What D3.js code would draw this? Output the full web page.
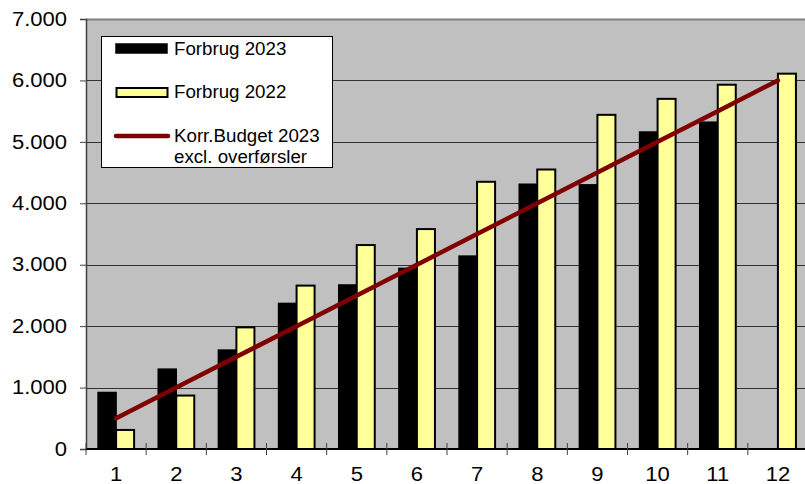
<!DOCTYPE html>
<html>
<head>
<meta charset="utf-8">
<script src="https://cdn.jsdelivr.net/npm/d3@7"></script>
<style>
  html, body { margin: 0; padding: 0; background: #fff; }
  svg { display: block; font-family: "Liberation Sans", Arial, sans-serif; }
</style>
</head>
<body>
<svg id="chart" width="805" height="484"></svg>
<script>
const months = ["1","2","3","4","5","6","7","8","9","10","11","12"];
const forbrug2023 = [920, 1300, 1610, 2370, 2670, 2940, 3140, 4310, 4300, 5160, 5320, null];
const forbrug2022 = [310, 870, 1980, 2660, 3320, 3580, 4350, 4550, 5440, 5700, 5930, 6110];
const budget2023 = [500, 1000, 1500, 2000, 2500, 3000, 3500, 4000, 4500, 5000, 5500, 6000];
const yTicks = [0, 1000, 2000, 3000, 4000, 5000, 6000, 7000];
const seriesNames = ["Forbrug 2023", "Forbrug 2022"];
const budgetLabel = ["Korr.Budget 2023", "excl. overførsler"];

(function () {
const svg = d3.select("#chart");
const pL = 86, pR = 808, pT = 19, pB = 449;
const tickStretch = 1.13, legendStretch = 1.07;

const x = d3.scaleBand().domain(months).range([pL, pR]).padding(0);
const xs = d3.scaleBand().domain(seriesNames).range([0, x.bandwidth()]).paddingInner(0).paddingOuter(0.67);
const y = d3.scaleLinear().domain([0, 7000]).range([pB, pT]);
const fmt = v => d3.format(",")(v).replace(/,/g, ".");

// plot background
svg.append("rect").attr("x", pL).attr("y", pT).attr("width", pR - pL).attr("height", pB - pT)
  .attr("fill", "#C0C0C0");

// gridlines
svg.append("g").selectAll("line").data(yTicks.filter(d => d > 0 && d < 7000)).join("line")
  .attr("x1", pL).attr("x2", pR)
  .attr("y1", d => Math.round(y(d)) + 0.5).attr("y2", d => Math.round(y(d)) + 0.5)
  .attr("stroke", "#333").attr("stroke-width", 1);

// top border
svg.append("line").attr("x1", pL).attr("x2", pR).attr("y1", pT + 0.5).attr("y2", pT + 0.5)
  .attr("stroke", "#808080").attr("stroke-width", 2);

const data = months.map((m, i) => ({m, a: forbrug2023[i], b: forbrug2022[i]}));

// bars
const groups = svg.append("g").selectAll("g").data(data).join("g")
  .attr("transform", d => `translate(${x(d.m)},0)`);
groups.filter(d => d.a != null).append("rect")
  .attr("x", xs("Forbrug 2023")).attr("width", xs.bandwidth())
  .attr("y", d => y(d.a))
  .attr("height", d => pB - y(d.a))
  .attr("fill", "#000").attr("stroke", "#000").attr("stroke-width", 1.5);
groups.append("rect")
  .attr("x", xs("Forbrug 2022")).attr("width", xs.bandwidth())
  .attr("y", d => y(d.b))
  .attr("height", d => pB - y(d.b))
  .attr("fill", "#FFFF99").attr("stroke", "#000").attr("stroke-width", 2);

// budget line
const line = d3.line().x((d, i) => x(months[i]) + x.bandwidth() / 2).y(d => y(d));
svg.append("path").datum(budget2023).attr("d", line)
  .attr("fill", "none").attr("stroke", "#800000").attr("stroke-width", 4.5).attr("stroke-linecap", "round");

// y axis
const yAxis = svg.append("g").attr("transform", `translate(${pL},0)`)
  .call(d3.axisLeft(y).tickValues(yTicks).tickFormat(fmt).tickSize(6).tickPadding(13));
yAxis.select(".domain").attr("stroke", "#404040").attr("stroke-width", 1.5);
yAxis.selectAll(".tick line").attr("stroke", "#404040");
yAxis.selectAll(".tick text")
  .attr("x", 0)
  .attr("transform", `translate(-19,0) scale(${tickStretch},1)`)
  .attr("font-size", "19.5px").attr("fill", "#000")
  .attr("font-family", "Liberation Sans, Arial, sans-serif");

// x axis
svg.append("line").attr("x1", pL).attr("x2", pR).attr("y1", pB).attr("y2", pB)
  .attr("stroke", "#000").attr("stroke-width", 2);
svg.append("g").selectAll("line").data(months).join("line")
  .attr("x1", d => x(d)).attr("x2", d => x(d))
  .attr("y1", pB - 6).attr("y2", pB + 6)
  .attr("stroke", "#404040").attr("stroke-width", 1);
svg.append("g").selectAll("text").data(months).join("text")
  .attr("transform", d => `translate(${x(d) + x.bandwidth() / 2},481) scale(${tickStretch},1)`)
  .attr("text-anchor", "middle").attr("font-size", "19.5px").attr("fill", "#000")
  .text(d => d);

// legend
const lg = svg.append("g");
lg.append("rect").attr("x", 101.5).attr("y", 36.5).attr("width", 231).attr("height", 131)
  .attr("fill", "#fff").attr("stroke", "#000").attr("stroke-width", 1);
lg.append("rect").attr("x", 116).attr("y", 44).attr("width", 51).attr("height", 9)
  .attr("fill", "#000").attr("stroke", "#000").attr("stroke-width", 1.5);
lg.append("rect").attr("x", 116.5).attr("y", 88).attr("width", 51).attr("height", 9)
  .attr("fill", "#FFFF99").attr("stroke", "#000").attr("stroke-width", 2);
lg.append("line").attr("x1", 116).attr("x2", 168).attr("y1", 136).attr("y2", 136)
  .attr("stroke", "#800000").attr("stroke-width", 4.5).attr("stroke-linecap", "round");
const lt = [
  {t: seriesNames[0], y: 54.5},
  {t: seriesNames[1], y: 98},
  {t: budgetLabel[0], y: 142},
  {t: budgetLabel[1], y: 162.5}
];
lg.selectAll("text").data(lt).join("text")
  .attr("transform", d => `translate(174,${d.y}) scale(${legendStretch},1)`)
  .attr("font-size", "17.5px").attr("fill", "#000")
  .text(d => d.t);
})();
</script>
</body>
</html>
